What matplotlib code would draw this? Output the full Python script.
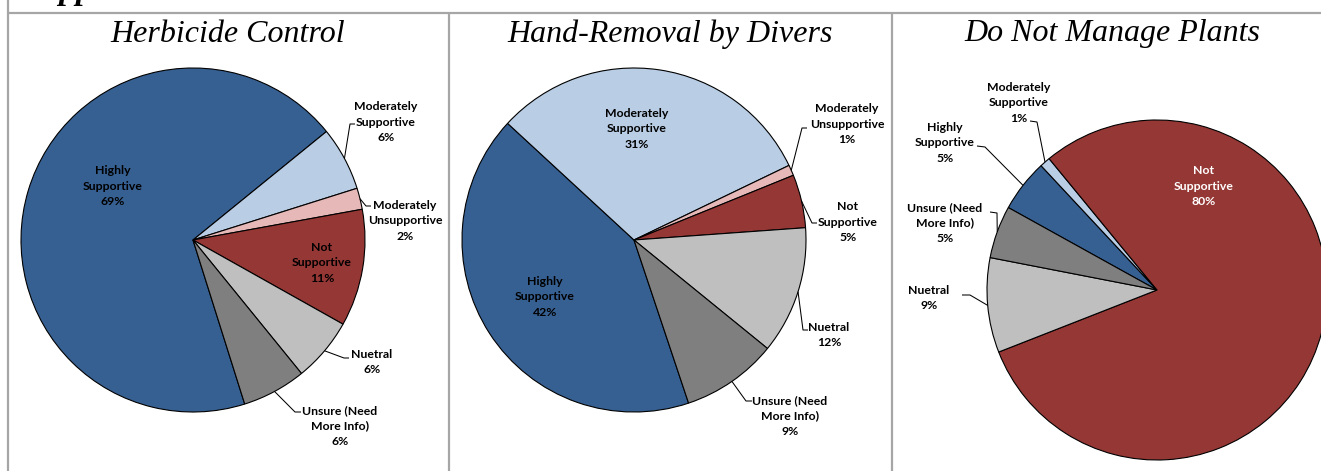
import matplotlib
matplotlib.use("Agg")
import matplotlib.pyplot as plt
import numpy as np

W, H = 1321, 471

# ---- data -------------------------------------------------------------
categories = ["Highly Supportive", "Moderately Supportive", "Moderately Unsupportive",
              "Not Supportive", "Nuetral", "Unsure (Need More Info)"]
label_text = ["Highly\nSupportive", "Moderately\nSupportive", "Moderately\nUnsupportive",
              "Not\nSupportive", "Nuetral", "Unsure (Need\nMore Info)"]
titles = ["Herbicide Control", "Hand-Removal by Divers", "Do Not Manage Plants"]
herbicide = [69, 6, 2, 11, 6, 6]
hand_removal = [42, 31, 1, 5, 12, 9]
no_management = [5, 1, 0, 80, 9, 5]
header = "Support"

colors = ["#376092", "#B9CDE5", "#E6B9B8", "#953735", "#BFBFBF", "#7F7F7F"]
frame_color = "#A6A6A6"
label_font = "Lato"
title_font = "Liberation Serif"


def P(x, y):
    """Pixel position measured from the top-left corner -> axes data coords."""
    return (x, H - y)


# ---- layout (pixel positions from top-left) ---------------------------
# per label: (text centre, [elbow, end] of leader or None, text colour)
panels = [
    dict(values=herbicide, title=titles[0], title_x=228, center=(193, 240),
         radius=172, start=287.5,
         labels={0: ((113, 186), None, "black"),
                 1: ((386, 122), [(350, 124), (355, 124)], "black"),
                 2: ((405, 221), [(366, 206), (371, 206)], "black"),
                 3: ((322, 263), None, "black"),
                 4: ((372, 362), [(344, 358), (349, 358)], "black"),
                 5: ((340, 426), [(295, 412), (301, 412)], "black")}),
    dict(values=hand_removal, title=titles[1], title_x=670, center=(634, 240),
         radius=172, start=288.5,
         labels={0: ((545, 297), None, "black"),
                 1: ((637, 129), None, "black"),
                 2: ((847, 124), [(802, 128), (807, 128)], "black"),
                 3: ((848, 222), [(812, 223), (817, 223)], "black"),
                 4: ((829, 335), [(803, 330), (808, 330)], "black"),
                 5: ((790, 416), [(746, 401), (752, 401)], "black")}),
    dict(values=no_management, title=titles[2], title_x=1112, center=(1157, 290),
         radius=170, start=151,
         labels={0: ((945, 143), [(985, 147), (977, 146)], "black"),
                 1: ((1019, 103), [(1037, 122), (1030, 121)], "black"),
                 3: ((1204, 186), None, "white"),
                 4: ((929, 298), [(970, 295), (962, 295)], "black"),
                 5: ((945, 223), [(997, 213), (990, 212)], "black")}),
]

fig = plt.figure(figsize=(W / 100, H / 100), dpi=100)
ax = fig.add_axes([0, 0, 1, 1])

for panel in panels:
    vals = np.asarray(panel["values"], dtype=float)
    idx = [i for i, v in enumerate(vals) if v > 0]
    cx, cy = P(*panel["center"])
    r = panel["radius"]
    wedges, _ = ax.pie(vals[idx], colors=[colors[i] for i in idx],
                       startangle=panel["start"], counterclock=False,
                       center=(cx, cy), radius=r, frame=True,
                       wedgeprops=dict(edgecolor="black", linewidth=0.8))
    for w, i in zip(wedges, idx):
        if i not in panel["labels"]:
            continue
        (tx, ty), leader, tcol = panel["labels"][i]
        ax.text(*P(tx, ty), f"{label_text[i]}\n{panel['values'][i]:g}%",
                ha="center", va="center", multialignment="center",
                fontsize=8.8, fontweight="bold", family=label_font,
                color=tcol, linespacing=1.45)
        if leader is not None:
            mid = np.deg2rad((w.theta1 + w.theta2) / 2)
            pts = [(cx + r * np.cos(mid), cy + r * np.sin(mid))]
            pts += [P(*p) for p in leader]
            xs, ys = zip(*pts)
            ax.plot(xs, ys, color="black", lw=0.75, solid_capstyle="butt")
    ax.text(*P(panel["title_x"], 34), panel["title"], ha="center", va="center",
            family=title_font, style="italic", fontsize=23)

# header line cut off at the top edge
ax.text(*P(22, -1), header, ha="left", va="baseline", family=title_font,
        style="italic", fontweight="bold", fontsize=24)

# table-like frame
fl = dict(color=frame_color, lw=1.6, solid_capstyle="butt")
ax.plot(*zip(P(8, 0), P(8, H)), **fl)
ax.plot(*zip(P(8, 12.5), P(W, 12.5)), **fl)
ax.plot(*zip(P(448.5, 12.5), P(448.5, H)), **fl)
ax.plot(*zip(P(892, 12.5), P(892, H)), **fl)

ax.set_xlim(0, W)
ax.set_ylim(0, H)
ax.set_aspect("auto")
ax.axis("off")

fig.savefig("out.png", dpi=100, facecolor="white")
